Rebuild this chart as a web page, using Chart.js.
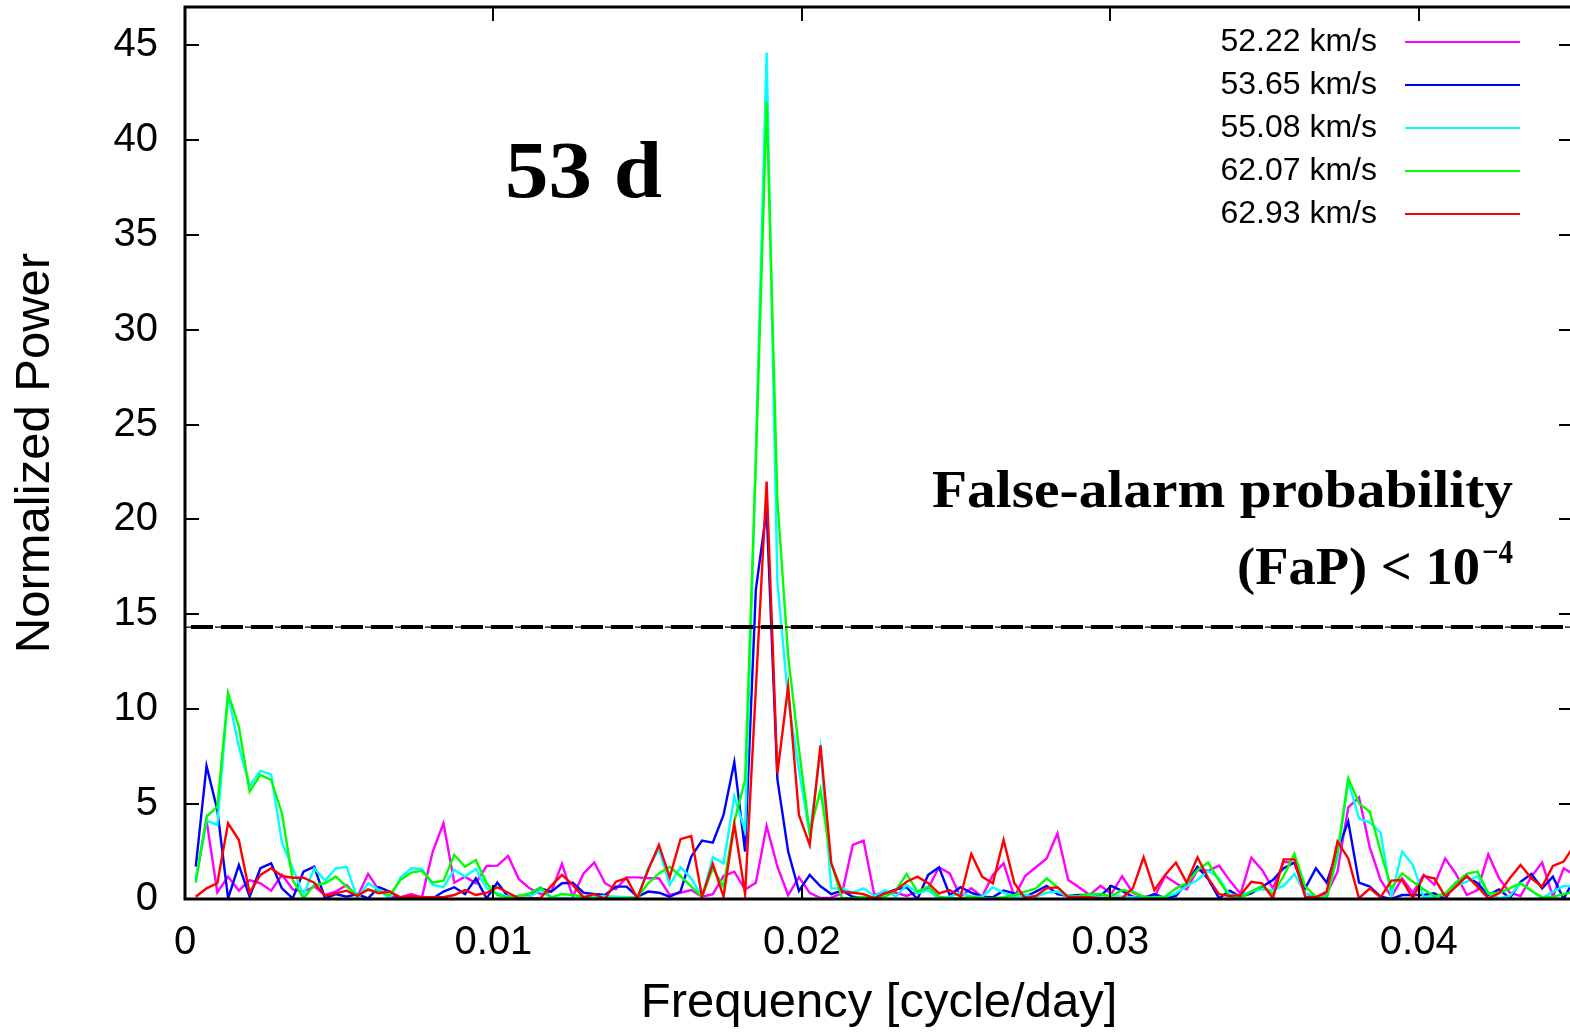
<!DOCTYPE html>
<html>
<head>
<meta charset="utf-8">
<script src="https://cdn.jsdelivr.net/npm/chart.js@4"></script>
<style>
    html, body { margin: 0; padding: 0; background: #fff; overflow: hidden; }
    #chart { display: block; }
</style>
</head>
<body>
<canvas id="chart" width="1580" height="1033"></canvas>
<script>
// Periodogram sampled on a regular frequency grid, first point at one step
const FREQ_STEP = 0.0003492;

const SERIES_LABELS = ['52.22 km/s', '53.65 km/s', '55.08 km/s', '62.07 km/s', '62.93 km/s'];
const SERIES_COLORS = ['#ff00ff', '#0000ff', '#00ffff', '#00ff00', '#ff0000'];

const power5222 = [
    1.0, 4.13, 0.35, 1.18, 0.44, 1.0, 0.83, 0.44, 1.27, 0.51,
    0.39, 0.65, 0.21, 0.39, 0.74, 0.12, 1.32, 0.47, 0.12, 0.09,
    0.26, 0.09, 2.5, 3.99, 0.86, 1.18, 0.83, 1.74, 1.76, 2.27,
    1.04, 0.56, 0.26, 0.39, 1.85, 0.12, 1.35, 1.92, 0.83, 0.51,
    1.14, 1.14, 1.09, 1.09, 0.21, 0.33, 0.47, 0.12, 0.25, 1.21,
    1.44, 0.5, 0.86, 3.85, 1.7, 0.2, 1.15, 0.32, 0.05, 0.07,
    0.3, 2.85, 3.08, 0.21, 0.39, 0.33, 0.16, 0.39, 0.56, 1.67,
    1.35, 0.12, 0.56, 0.12, 1.27, 1.88, 0.12, 1.21, 1.67, 2.14,
    3.46, 1.0, 0.62, 0.21, 0.69, 0.26, 1.2, 0.33, 0.12, 0.12,
    1.21, 0.83, 0.51, 1.53, 1.49, 1.76, 0.97, 0.26, 2.18, 1.53,
    0.56, 1.97, 1.88, 0.3, 0.12, 0.26, 1.44, 4.83, 5.36, 2.72,
    1.0, 0.12, 1.09, 0.33, 1.27, 0.75, 2.14, 1.32, 0.21, 0.47,
    2.35, 1.09, 0.33, 0.16, 1.18, 1.92, 0.12, 1.62, 1.27
];
const power5365 = [
    1.7, 7.01, 4.69, 0.03, 1.79, 0.12, 1.62, 1.88, 0.56, 0.03,
    1.44, 1.7, 0.03, 0.26, 0.12, 0.26, 0.03, 0.62, 0.39, 0.03,
    0.09, 0.03, 0.03, 0.39, 0.62, 0.26, 1.09, 0.03, 0.87, 0.12,
    0.16, 0.12, 0.56, 0.39, 0.83, 0.86, 0.33, 0.26, 0.21, 0.65,
    0.65, 0.12, 0.39, 0.33, 0.12, 0.39, 2.23, 3.08, 2.97, 4.43,
    7.22, 2.5, 16.3, 20.5, 6.3, 2.5, 0.43, 1.27, 0.67, 0.26,
    0.44, 0.12, 0.04, 0.09, 0.3, 0.51, 0.62, 0.0, 1.27, 1.67,
    0.21, 0.62, 0.33, 0.12, 0.09, 0.44, 0.3, 0.12, 0.39, 0.69,
    0.26, 0.16, 0.21, 0.21, 0.16, 0.69, 0.43, 0.12, 0.04, 0.26,
    0.04, 0.16, 0.83, 1.7, 1.04, 0.04, 0.44, 0.12, 0.3, 0.65,
    1.0, 1.62, 1.92, 0.56, 1.62, 0.86, 2.58, 4.08, 0.86, 0.65,
    0.12, 0.0, 0.21, 0.21, 0.21, 0.3, 0.0, 0.86, 1.18, 0.83,
    0.21, 0.51, 0.04, 0.91, 1.32, 0.56, 1.18, 0.0, 1.09
];
const power5508 = [
    1.09, 4.13, 3.9, 10.76, 8.03, 5.96, 6.75, 6.57, 2.97, 1.62,
    0.21, 1.62, 0.97, 1.62, 1.7, 0.03, 0.83, 0.47, 0.03, 1.12,
    1.62, 1.58, 0.74, 0.62, 1.53, 1.18, 1.58, 0.56, 0.3, 0.12,
    0.12, 0.12, 0.47, 0.04, 0.04, 0.04, 0.04, 0.12, 0.16, 0.12,
    0.09, 0.07, 1.62, 2.62, 0.74, 1.67, 1.09, 0.12, 2.2, 1.88,
    5.4, 3.6, 23.5, 44.6, 16.7, 10.5, 6.8, 3.4, 7.9, 0.56,
    0.56, 0.33, 0.56, 0.16, 0.47, 0.12, 0.74, 0.3, 0.47, 0.0,
    0.12, 0.33, 0.12, 0.12, 0.62, 0.33, 0.12, 0.21, 0.12, 0.33,
    0.39, 0.12, 0.12, 0.16, 0.12, 0.21, 0.12, 0.09, 0.04, 0.09,
    0.12, 0.3, 0.69, 1.0, 1.49, 1.09, 0.21, 0.21, 0.39, 0.51,
    0.47, 0.69, 1.32, 0.3, 0.12, 0.12, 2.23, 6.19, 4.25, 4.02,
    3.5, 0.12, 2.5, 1.79, 0.12, 0.12, 0.26, 0.69, 0.91, 1.21,
    0.3, 0.04, 0.16, 0.83, 0.44, 0.04, 0.39, 0.69, 0.65
];
const power6207 = [
    0.86, 4.34, 4.87, 10.84, 9.09, 5.66, 6.54, 6.27, 4.52, 1.0,
    0.03, 0.74, 0.83, 1.18, 0.65, 0.2, 0.47, 0.39, 0.2, 1.0,
    1.39, 1.48, 0.86, 0.97, 2.32, 1.7, 2.06, 0.83, 0.2, 0.09,
    0.16, 0.3, 0.62, 0.09, 0.26, 0.21, 0.12, 0.04, 0.04, 0.04,
    0.04, 0.09, 0.83, 1.35, 1.7, 1.21, 0.65, 0.12, 1.62, 0.65,
    4.08, 6.27, 23.0, 42.0, 21.0, 12.8, 7.9, 3.5, 5.75, 1.88,
    0.04, 0.04, 0.12, 0.04, 0.12, 0.47, 1.32, 0.39, 0.65, 0.12,
    0.04, 0.04, 0.12, 0.04, 0.04, 0.09, 0.21, 0.39, 0.56, 1.09,
    0.62, 0.12, 0.16, 0.26, 0.26, 0.14, 0.47, 0.39, 0.12, 0.04,
    0.12, 0.56, 0.83, 1.53, 1.92, 0.97, 0.12, 0.04, 0.39, 0.69,
    0.26, 1.21, 2.37, 0.65, 0.12, 0.04, 2.41, 6.36, 5.04, 4.6,
    2.5, 0.56, 1.35, 0.91, 0.51, 0.12, 0.3, 0.86, 1.32, 1.44,
    0.3, 0.33, 0.56, 0.83, 0.44, 0.09, 0.12, 0.26, 0.39
];
const power6293 = [
    0.12, 0.56, 0.83, 3.99, 3.11, 0.33, 1.27, 1.62, 1.21, 1.12,
    1.12, 0.86, 0.16, 0.3, 0.44, 0.16, 0.51, 0.3, 0.39, 0.09,
    0.16, 0.09, 0.09, 0.09, 0.21, 0.47, 0.21, 0.33, 0.62, 0.33,
    0.04, 0.04, 0.04, 0.69, 1.27, 0.74, 0.09, 0.26, 0.0, 0.91,
    1.09, 0.04, 1.53, 2.85, 1.14, 3.15, 3.32, 0.12, 1.85, 0.12,
    3.95, 0.25, 11.1, 22.0, 6.62, 11.2, 4.43, 2.85, 8.1, 1.88,
    0.39, 0.33, 0.26, 0.04, 0.3, 0.47, 0.91, 1.18, 0.83, 0.3,
    0.47, 0.12, 2.37, 1.18, 0.83, 3.11, 0.83, 0.04, 0.16, 0.56,
    0.62, 0.09, 0.09, 0.09, 0.04, 0.04, 0.04, 0.56, 2.2, 0.47,
    1.27, 1.92, 0.86, 2.2, 1.09, 0.26, 0.16, 0.21, 0.91, 0.83,
    0.04, 2.09, 2.09, 0.12, 0.09, 0.39, 3.02, 2.14, 0.04, 0.56,
    0.09, 0.97, 1.0, 0.04, 1.21, 1.09, 0.12, 0.65, 1.21, 0.65,
    0.04, 0.3, 1.09, 1.79, 1.09, 0.65, 1.74, 1.97, 2.85
];

const SERIES_VALUES = [power5222, power5365, power5508, power6207, power6293];

const FAP_LEVEL = 14.33;
const X_MAX = 0.045;
const Y_MAX = 47;
const X_TICKS = [0, 0.01, 0.02, 0.03, 0.04];
const Y_TICKS = [0, 5, 10, 15, 20, 25, 30, 35, 40, 45];

const SANS = '"Liberation Sans", Arial, Helvetica, sans-serif';
const SERIF = '"Liberation Serif", "Times New Roman", serif';


function toPoints(values) {
    return values.map((v, i) => ({ x: (i + 1) * FREQ_STEP, y: v }));
}


// Text squeezed or stretched horizontally to a given width
function fitText(ctx, text, x, y, width, align) {
    const w = ctx.measureText(text).width;
    const sx = width / w;
    ctx.save();
    ctx.translate(x, y);
    ctx.scale(sx, 1);
    ctx.textAlign = align;
    ctx.fillText(text, 0, 0);
    ctx.restore();
    return sx;
}


// Gnuplot-like frame: box, inward mirrored ticks, key and labels
const framePlugin = {
    id: 'frame',
    afterDraw(chart) {
        const ctx = chart.ctx;
        const { left, right, top, bottom } = chart.chartArea;
        const xs = chart.scales.x;
        const ys = chart.scales.y;
        const tickLen = 14;

        ctx.save();
        ctx.strokeStyle = '#000';
        ctx.lineWidth = 2;
        ctx.beginPath();
        for (const v of Y_TICKS) {
            const py = Math.round(ys.getPixelForValue(v));
            ctx.moveTo(left, py);
            ctx.lineTo(left + tickLen, py);
            ctx.moveTo(right, py);
            ctx.lineTo(right - tickLen, py);
        }
        for (const v of X_TICKS) {
            const px = Math.round(xs.getPixelForValue(v));
            ctx.moveTo(px, bottom);
            ctx.lineTo(px, bottom - tickLen);
            ctx.moveTo(px, top);
            ctx.lineTo(px, top + tickLen);
        }
        ctx.stroke();

        ctx.lineWidth = 3;
        ctx.strokeRect(left, top, right - left, bottom - top);

        // Key
        ctx.font = '32px ' + SANS;
        ctx.fillStyle = '#000';
        ctx.textBaseline = 'middle';
        ctx.textAlign = 'right';
        SERIES_LABELS.forEach((label, i) => {
            const y = 42 + i * 43;
            ctx.fillText(label, 1377, y);
            ctx.strokeStyle = SERIES_COLORS[i];
            ctx.lineWidth = 2;
            ctx.beginPath();
            ctx.moveTo(1405, y);
            ctx.lineTo(1520, y);
            ctx.stroke();
        });

        // Period label
        ctx.textBaseline = 'alphabetic';
        ctx.font = 'bold 81px ' + SERIF;
        fitText(ctx, '53 d', 505, 197, 157, 'left');

        // False-alarm probability note
        ctx.font = 'bold 53px ' + SERIF;
        fitText(ctx, 'False-alarm probability', 1513, 507, 581, 'right');
        fitText(ctx, '(FaP) < 10', 1480, 584, 243, 'right');
        ctx.font = 'bold 34px ' + SERIF;
        fitText(ctx, '\u22124', 1513, 563, 31, 'right');

        ctx.restore();
    }
};


const datasets = SERIES_VALUES.map((values, i) => ({
    label: SERIES_LABELS[i],
    data: toPoints(values),
    borderColor: SERIES_COLORS[i],
    borderWidth: 2.4,
    order: SERIES_VALUES.length - i + 1
}));

// FaP threshold: thick dashes over a thin dash-dot line
datasets.push({
    label: 'FaP thin',
    data: [{ x: 0, y: FAP_LEVEL }, { x: X_MAX, y: FAP_LEVEL }],
    borderColor: '#000',
    borderWidth: 1.2,
    borderDash: [14, 6, 3, 7],
    order: 1
});
datasets.push({
    label: 'FaP',
    data: [{ x: 0, y: FAP_LEVEL }, { x: X_MAX, y: FAP_LEVEL }],
    borderColor: '#000',
    borderWidth: 4,
    borderDash: [22, 8],
    borderDashOffset: -6,
    order: 0
});


new Chart(document.getElementById('chart').getContext('2d'), {
    type: 'line',
    data: { datasets: datasets },
    options: {
        responsive: false,
        animation: false,
        devicePixelRatio: 1,
        layout: { padding: { top: 7, right: 7, left: 0, bottom: 0 } },
        elements: {
            point: { radius: 0 },
            line: { tension: 0, fill: false, borderCapStyle: 'butt' }
        },
        plugins: {
            legend: { display: false },
            tooltip: { enabled: false }
        },
        scales: {
            x: {
                type: 'linear',
                min: 0,
                max: X_MAX,
                grid: { display: false, drawTicks: false },
                border: { display: false },
                afterBuildTicks: s => { s.ticks = X_TICKS.map(v => ({ value: v })); },
                afterFit: s => {
                    s.height = 134;
                    s.paddingLeft = 0;
                    s.paddingRight = 0;
                },
                ticks: {
                    color: '#000',
                    font: { family: SANS, size: 40 },
                    padding: 20,
                    maxRotation: 0,
                    autoSkip: false,
                    callback: v => String(v)
                },
                title: {
                    display: true,
                    text: 'Frequency [cycle/day]',
                    color: '#000',
                    font: { family: SANS, size: 49 },
                    padding: 0
                }
            },
            y: {
                min: 0,
                max: Y_MAX,
                grid: { display: false, drawTicks: false },
                border: { display: false },
                afterBuildTicks: s => { s.ticks = Y_TICKS.map(v => ({ value: v })); },
                afterFit: s => {
                    s.width = 185;
                    s.paddingTop = 0;
                    s.paddingBottom = 0;
                },
                ticks: {
                    color: '#000',
                    font: { family: SANS, size: 40 },
                    padding: 27,
                    autoSkip: false
                },
                title: {
                    display: true,
                    text: 'Normalized Power',
                    color: '#000',
                    font: { family: SANS, size: 49 },
                    padding: { top: 6, bottom: 0 }
                }
            }
        }
    },
    plugins: [framePlugin]
});
</script>
</body>
</html>
